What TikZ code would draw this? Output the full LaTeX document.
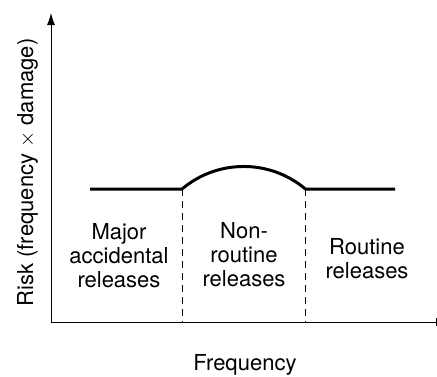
\documentclass[tikz,border=0pt]{standalone}
\usepackage{fontspec}
\setmainfont{TeX Gyre Heros}
\usetikzlibrary{arrows.meta}
\begin{document}
\begin{tikzpicture}[x=1pt,y=1pt,
  axis/.style={line width=0.9pt,-{Latex[length=12pt,width=8pt]}},
  riskline/.style={line width=3pt},
  bound/.style={line width=0.8pt,dash pattern=on 7pt off 5pt},
  zone/.style={align=center,font=\fontsize{22}{24}\selectfont,inner sep=0pt},
  lbl/.style={font=\fontsize{22}{24}\selectfont,inner sep=0pt}]
\useasboundingbox (0,0) rectangle (437,376);
% axes
\coordinate (o) at (51,54);
\coordinate (ytop) at (51,363);
\coordinate (xend) at (448,54);
\draw[axis] (o) -- (ytop);
\draw[axis] (o) -- (xend);
% risk curve
\coordinate (c0) at (90,187);
\coordinate (c1) at (182,187);
\coordinate (c2) at (305.5,187);
\coordinate (c3) at (395,187);
\draw[riskline] (c0) -- (c1) arc[start angle=130.1,end angle=49.9,radius=95.8] -- (c3);
% zone boundaries
\coordinate (b1) at (182,54);
\coordinate (b2) at (305.5,54);
\draw[bound] (c1) -- (b1);
\draw[bound] (c2) -- (b2);
% zone labels (base anchor sits on the last line)
\node[zone,anchor=base] (major) at (119,89) {Major\\accidental\\releases};
\node[zone,anchor=base] (nonroutine) at (244,90) {Non-\\routine\\releases};
\node[zone,anchor=base] (routine) at (367,98) {Routine\\releases};
% axis labels
\node[lbl,anchor=base] (xlabel) at (245,5.5) {Frequency};
\node[lbl,rotate=90,anchor=base] (ylabel) at (33,203.5) {Risk (frequency $\times$ damage)};
\end{tikzpicture}
\end{document}
